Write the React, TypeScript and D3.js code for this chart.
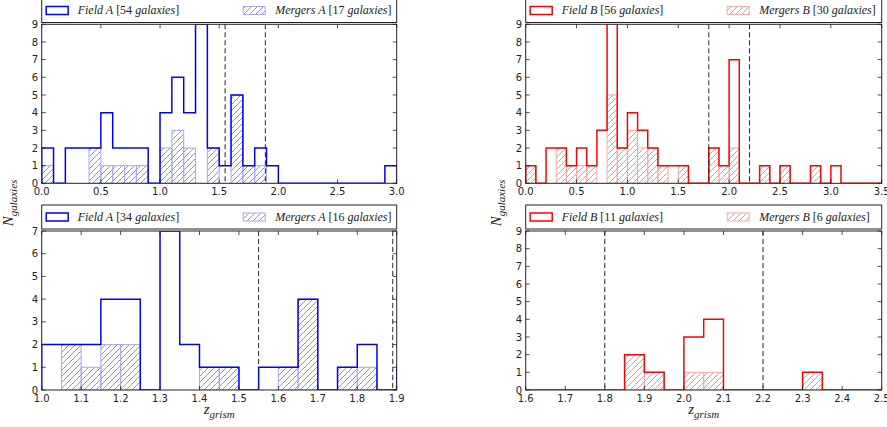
import React, { useRef, useEffect } from 'react';
import * as d3 from 'd3';

// Top-left: bins of 0.1 from 0.0
const fieldTopA = [2, 0, 2, 2, 2, 4, 2, 2, 2, 0, 4, 6, 4, 9, 2, 1, 5, 1, 2, 1, 0, 0, 0, 0, 0, 0, 0, 0, 0, 1];
const mergersTopA = [1, 0, 0, 0, 2, 1, 1, 1, 1, 0, 2, 3, 2, 0, 2, 0, 5, 1, 1, 0, 0, 0, 0, 0, 0, 0, 0, 0, 0, 0];

// Top-right: bins of 0.1 from 0.0
const fieldTopB = [1, 0, 2, 2, 1, 2, 1, 3, 16, 2, 4, 3, 2, 1, 1, 1, 0, 0, 2, 1, 7, 0, 0, 1, 0, 1, 0, 0, 1, 0, 1, 0, 0, 0, 0];
const mergersTopB = [1, 0, 0, 2, 1, 1, 1, 0, 5, 2, 3, 2, 2, 1, 0, 1, 0, 0, 2, 1, 2, 0, 0, 1, 0, 1, 0, 0, 1, 0, 0, 0, 0, 0, 0];

// Bottom-left: bins of 0.05 from 1.0
const fieldBotA = [2, 2, 2, 4, 4, 0, 7, 2, 1, 1, 0, 1, 1, 4, 0, 1, 2, 0, 1];
const mergersBotA = [0, 2, 1, 2, 2, 0, 0, 0, 1, 1, 0, 0, 1, 4, 0, 1, 1, 0, 0];

// Bottom-right: bins of 0.05 from 1.6
const fieldBotB = [0, 0, 0, 0, 0, 2, 1, 0, 3, 4, 0, 0, 0, 0, 1, 0, 0, 0];
const mergersBotB = [0, 0, 0, 0, 0, 2, 1, 0, 1, 1, 0, 0, 0, 0, 1, 0, 0, 0];

const cutsA = [1.55, 1.89];
const cutsB = [1.8, 2.2];

const SERIF = "'Liberation Serif', 'DejaVu Serif', serif";

const drawPanel = (svg, o) => {
  const { x0, x1, yTop, yBot, domain, yMax, start, step, field, mergers, color, hatchId, cuts, name, nField, nMergers, xTicks, id, legTop } = o;
  const x = d3.scaleLinear().domain(domain).range([x0, x1]);
  const y = d3.scaleLinear().domain([0, yMax]).range([yBot, yTop]);
  const edge = (i) => start + i * step;
  const main = color === 'blue' ? '#0000ff' : '#ff0000';
  const pale = color === 'blue' ? '#a6a6ff' : '#ffa6a6';

  svg.append('clipPath').attr('id', 'clip' + id)
    .append('rect').attr('x', x0).attr('y', yTop).attr('width', x1 - x0).attr('height', yBot - yTop);

  const g = svg.append('g').attr('clip-path', `url(#clip${id})`);

  // mergers: hatched bars
  g.selectAll('rect.m')
    .data(mergers.map((v, i) => ({ v, i })).filter(d => d.v > 0))
    .enter()
    .append('rect')
    .attr('x', d => x(edge(d.i)))
    .attr('y', d => y(d.v))
    .attr('width', d => x(edge(d.i + 1)) - x(edge(d.i)))
    .attr('height', d => y(0) - y(d.v))
    .attr('fill', `url(#${hatchId})`)
    .attr('stroke', pale)
    .attr('stroke-width', 1);

  // field: step outline
  const pts: [number, number][] = [[edge(0), 0]];
  field.forEach((v, i) => {
    pts.push([edge(i), v]);
    pts.push([edge(i + 1), v]);
  });
  pts.push([edge(field.length), 0]);
  g.append('path')
    .attr('d', d3.line().x(d => x(d[0])).y(d => y(d[1]))(pts))
    .attr('fill', 'none')
    .attr('stroke', main)
    .attr('stroke-width', 1.5);

  // dashed cuts
  g.selectAll('line.cut')
    .data(cuts)
    .enter()
    .append('line')
    .attr('x1', d => x(d)).attr('x2', d => x(d))
    .attr('y1', yTop).attr('y2', yBot)
    .attr('stroke', '#222')
    .attr('stroke-width', 1)
    .attr('stroke-dasharray', '5,3');

  // ticks on all four sides, pointing in
  const ax = svg.append('g').attr('stroke', '#222').attr('stroke-width', 0.8);
  xTicks.forEach(t => {
    ax.append('line').attr('x1', x(t)).attr('x2', x(t)).attr('y1', yBot).attr('y2', yBot - 4);
    ax.append('line').attr('x1', x(t)).attr('x2', x(t)).attr('y1', yTop).attr('y2', yTop + 4);
  });
  d3.range(0, yMax + 1).forEach(t => {
    ax.append('line').attr('x1', x0).attr('x2', x0 + 4).attr('y1', y(t)).attr('y2', y(t));
    ax.append('line').attr('x1', x1).attr('x2', x1 - 4).attr('y1', y(t)).attr('y2', y(t));
  });

  svg.append('rect')
    .attr('x', x0).attr('y', yTop).attr('width', x1 - x0).attr('height', yBot - yTop)
    .attr('fill', 'none').attr('stroke', '#222').attr('stroke-width', 1);

  const lbl = svg.append('g').style('font-family', "'DejaVu Sans', sans-serif").style('font-size', '10px').attr('fill', '#222');
  xTicks.forEach(t => {
    lbl.append('text').attr('x', x(t)).attr('y', yBot + 12).attr('text-anchor', 'middle').text(t.toFixed(1));
  });
  d3.range(0, yMax + 1).forEach(t => {
    lbl.append('text').attr('x', x0 - 3.5).attr('y', y(t) + 3.6).attr('text-anchor', 'end').text(t);
  });

  // legend box
  const leg = svg.append('g');
  leg.append('rect')
    .attr('x', x0).attr('y', legTop).attr('width', x1 - x0).attr('height', 24)
    .attr('fill', '#fff').attr('stroke', '#222').attr('stroke-width', 1);
  const cy = legTop + 12;
  leg.append('rect')
    .attr('x', x0 + 4.5).attr('y', cy - 4).attr('width', 22).attr('height', 8)
    .attr('fill', 'none').attr('stroke', main).attr('stroke-width', 1.5);
  leg.append('rect')
    .attr('x', x0 + 201.5).attr('y', cy - 4).attr('width', 22).attr('height', 8)
    .attr('fill', `url(#${hatchId})`).attr('stroke', pale).attr('stroke-width', 1);

  const entry = (tx, word, n) => {
    const t = leg.append('text').attr('x', tx).attr('y', cy + 3.8)
      .style('font-family', SERIF).style('font-size', '12px').attr('fill', '#222');
    t.append('tspan').style('font-style', 'italic').text(word + ' ' + name);
    t.append('tspan').text(' [' + n + ' ');
    t.append('tspan').style('font-style', 'italic').text('galaxies');
    t.append('tspan').text(']');
  };
  entry(x0 + 36, 'Field', nField);
  entry(x0 + 233.5, 'Mergers', nMergers);
};

const HistogramPanels: React.FC = () => {
  const ref = useRef<SVGSVGElement | null>(null);

  useEffect(() => {
    const svg = d3.select(ref.current);
    svg.selectAll('*').remove();

    const defs = svg.append('defs');
    const hatches = [{ id: 'hatchBlue', c: '#3d3dff' }, { id: 'hatchRed', c: '#ff3d3d' }];
    hatches.forEach(h => {
      const p = defs.append('pattern').attr('id', h.id)
        .attr('patternUnits', 'userSpaceOnUse').attr('width', 6).attr('height', 6);
      p.append('path').attr('d', 'M-1,1 l2,-2 M0,6 l6,-6 M5,7 l2,-2')
        .attr('fill', 'none').attr('stroke', h.c).attr('stroke-width', 0.75).attr('stroke-opacity', 0.8);
    });

    const xL = [41.7, 396.7];
    const xR = [525.7, 881.7];

    drawPanel(svg, {
      id: 'tl', x0: xL[0], x1: xL[1], yTop: 24.3, yBot: 183.3, domain: [0, 3], yMax: 9,
      start: 0, step: 0.1, field: fieldTopA, mergers: mergersTopA, color: 'blue', hatchId: 'hatchBlue',
      cuts: cutsA, name: 'A', nField: 54, nMergers: 17, xTicks: d3.range(0, 3.01, 0.5), legTop: -1.5,
    });
    drawPanel(svg, {
      id: 'tr', x0: xR[0], x1: xR[1], yTop: 24.3, yBot: 183.3, domain: [0, 3.5], yMax: 9,
      start: 0, step: 0.1, field: fieldTopB, mergers: mergersTopB, color: 'red', hatchId: 'hatchRed',
      cuts: cutsB, name: 'B', nField: 56, nMergers: 30, xTicks: d3.range(0, 3.51, 0.5), legTop: -1.5,
    });
    drawPanel(svg, {
      id: 'bl', x0: xL[0], x1: xL[1], yTop: 231, yBot: 390, domain: [1.0, 1.9], yMax: 7,
      start: 1.0, step: 0.05, field: fieldBotA, mergers: mergersBotA, color: 'blue', hatchId: 'hatchBlue',
      cuts: cutsA, name: 'A', nField: 34, nMergers: 16, xTicks: d3.range(10, 19.1, 1).map(v => v / 10), legTop: 205,
    });
    drawPanel(svg, {
      id: 'br', x0: xR[0], x1: xR[1], yTop: 231, yBot: 390, domain: [1.6, 2.5], yMax: 9,
      start: 1.6, step: 0.05, field: fieldBotB, mergers: mergersBotB, color: 'red', hatchId: 'hatchRed',
      cuts: cutsB, name: 'B', nField: 11, nMergers: 6, xTicks: d3.range(16, 25.1, 1).map(v => v / 10), legTop: 205,
    });

    // axis titles
    [(xL[0] + xL[1]) / 2, (xR[0] + xR[1]) / 2].forEach(cx => {
      const t = svg.append('text').attr('x', cx).attr('y', 414).attr('text-anchor', 'middle')
        .style('font-family', SERIF).style('font-style', 'italic').attr('fill', '#222');
      t.append('tspan').style('font-size', '15px').text('z');
      t.append('tspan').style('font-size', '11px').attr('dy', 4).text('grism');
    });
    [13, 501].forEach(cx => {
      const t = svg.append('text').attr('transform', `translate(${cx},203) rotate(-90)`).attr('text-anchor', 'middle')
        .style('font-family', SERIF).style('font-style', 'italic').attr('fill', '#222');
      t.append('tspan').style('font-size', '15px').text('N');
      t.append('tspan').style('font-size', '11px').attr('dy', 4).text('galaxies');
    });
  }, []);

  return (
    <svg ref={ref} width={887} height={427}
      style={{ position: 'absolute', left: 0, top: 0, background: '#fff' }} />
  );
};

export default HistogramPanels;
